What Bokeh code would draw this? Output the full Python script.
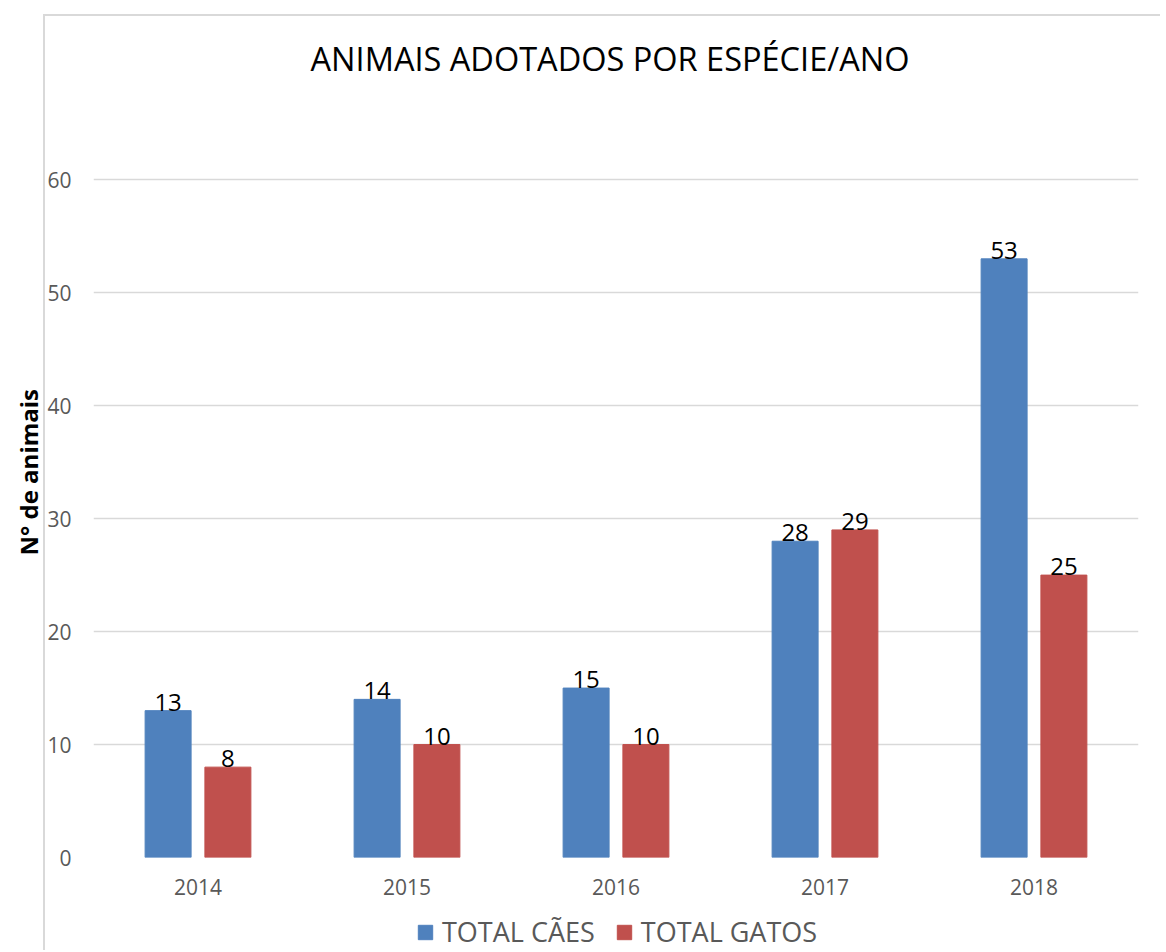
from bokeh.plotting import figure
from bokeh.layouts import column
from bokeh.models import (Range1d, ColumnDataSource, LabelSet, Label, Title,
                          Legend, LegendItem, FixedTicker)
from bokeh.transform import dodge
from bokeh.core.properties import value
from bokeh.embed import file_html
from bokeh.resources import INLINE

years = ["2014", "2015", "2016", "2017", "2018"]
caes = [13, 14, 15, 28, 53]
gatos = [8, 10, 10, 29, 25]
y_ticks = [0, 10, 20, 30, 40, 50, 60]

title_text = "ANIMAIS ADOTADOS POR ESPÉCIE/ANO"
y_label = "N° de animais"
series_names = ["TOTAL CÃES", "TOTAL GATOS"]

BLUE = "#4F81BD"
RED = "#C0504D"
GRAY = "#595959"
EDGE = "#d9d9d9"
FONT = "Open Sans"
W = 1160


def strip(height):
    f = figure(width=W, height=height, output_backend="svg", toolbar_location=None,
               x_range=Range1d(0, 1), y_range=Range1d(0, 1),
               x_axis_location=None, y_axis_location=None, min_border=0)
    f.grid.grid_line_color = None
    f.outline_line_color = None
    f.background_fill_color = None
    f.border_fill_color = None
    return f


left_edge = {
    "background-color": "white",
    "background-image": f"linear-gradient({EDGE}, {EDGE})",
    "background-size": "2px 100%",
    "background-position": "43px 0px",
    "background-repeat": "no-repeat",
}

# ---- title strip ----
top = strip(100)
top.styles = {
    "background-color": "white",
    "background-image": f"linear-gradient({EDGE}, {EDGE}), linear-gradient({EDGE}, {EDGE})",
    "background-size": "2px 100%, 100% 2px",
    "background-position": "43px 14px, 43px 14px",
    "background-repeat": "no-repeat",
}
top.add_layout(Label(x=516.5, y=42, x_units="screen", y_units="screen", text=title_text,
                     text_align="center", text_baseline="middle", text_font=FONT,
                     text_font_size="32.5px", text_color="black"))

# ---- main chart ----
src = ColumnDataSource(dict(years=years, caes=caes, gatos=gatos,
                            caes_t=[str(v) for v in caes],
                            gatos_t=[str(v) for v in gatos]))

p = figure(x_range=years, y_range=Range1d(0, 60.2), width=W, height=810,
           output_backend="svg", toolbar_location=None, title=None,
           min_border_left=93, min_border_right=22, min_border_top=77,
           min_border_bottom=53)
p.x_range.range_padding = 0
p.outline_line_color = None
p.background_fill_color = None
p.border_fill_color = None
p.styles = dict(left_edge)

r1 = p.vbar(x=dodge("years", -0.143, range=p.x_range), top="caes", width=0.22,
            source=src, fill_color=BLUE, line_color=BLUE)
r2 = p.vbar(x=dodge("years", 0.143, range=p.x_range), top="gatos", width=0.22,
            source=src, fill_color=RED, line_color=RED)

for col, off in (("caes", -0.143), ("gatos", 0.143)):
    p.add_layout(LabelSet(x=dodge("years", off, range=p.x_range), y=col, text=col + "_t",
                          source=src, text_align="center", text_baseline="alphabetic",
                          text_font=value(FONT), text_font_size="24px", text_color="black"))

p.xgrid.grid_line_color = None
p.ygrid.grid_line_color = EDGE
p.ygrid.grid_line_width = 1.5
p.yaxis.ticker = FixedTicker(ticks=y_ticks)

for ax in (p.xaxis, p.yaxis):
    ax.axis_line_color = None
    ax.major_tick_line_color = None
    ax.minor_tick_line_color = None
    ax.major_tick_out = 0
    ax.major_label_text_font = FONT
    ax.major_label_text_font_size = "21px"
    ax.major_label_text_color = GRAY
p.yaxis.major_label_standoff = 22
p.xaxis.major_label_standoff = 21

p.add_layout(Title(text=y_label, align="left", offset=302, standoff=0,
                   text_font=FONT, text_font_size="24px", text_font_style="bold",
                   text_color="black"), "left")

# ---- legend strip ----
leg = strip(40)
leg.styles = dict(left_edge)
e1 = leg.vbar(x=[0.5], bottom=[-3], top=[-2], width=0.1, fill_color=BLUE, line_color=BLUE)
e2 = leg.vbar(x=[0.5], bottom=[-3], top=[-2], width=0.1, fill_color=RED, line_color=RED)
legend = Legend(items=[LegendItem(label=series_names[0], renderers=[e1]),
                       LegendItem(label=series_names[1], renderers=[e2])],
                orientation="horizontal", location=(323, 0),
                label_text_font=FONT, label_text_font_size="27px", label_text_color=GRAY,
                glyph_width=18, glyph_height=18, label_standoff=8, spacing=20,
                border_line_color=None, background_fill_color=None,
                margin=0, padding=0)
leg.add_layout(legend, "center")

layout = column(top, p, leg, spacing=0)
open("out.html", "w").write(file_html(layout, INLINE))
